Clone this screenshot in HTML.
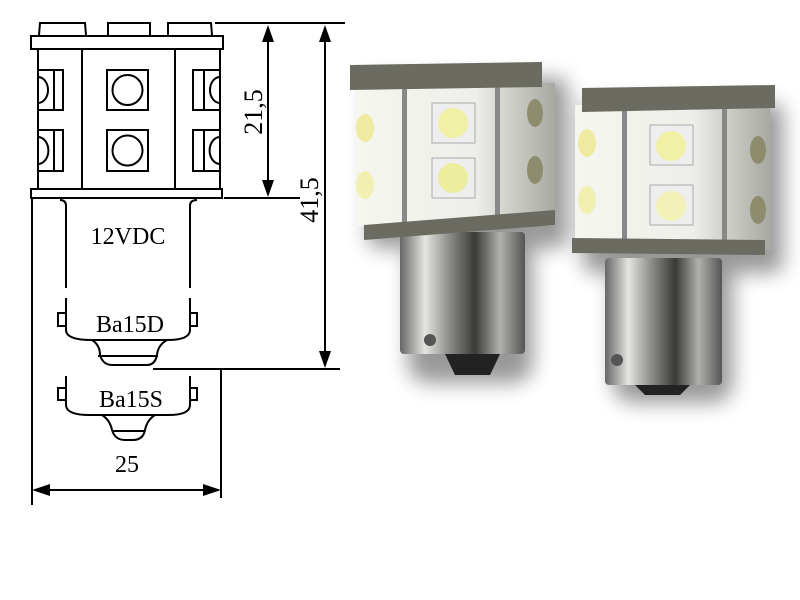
<!DOCTYPE html><html><head><style>body{margin:0;background:#fff}svg{display:block}</style></head><body>
<svg width="800" height="600" viewBox="0 0 800 600" xmlns="http://www.w3.org/2000/svg">
<defs>
<linearGradient id="metal" x1="0" x2="1"><stop offset="0" stop-color="#666"/><stop offset=".2" stop-color="#e4e4e0"/><stop offset=".4" stop-color="#8a8a86"/><stop offset=".6" stop-color="#3a3a38"/><stop offset=".8" stop-color="#b0b0ac"/><stop offset="1" stop-color="#555"/></linearGradient>
<linearGradient id="pcb" x1="0" x2="1"><stop offset="0" stop-color="#f6f6f0"/><stop offset=".6" stop-color="#eeeeea"/><stop offset="1" stop-color="#a9a9a3"/></linearGradient>
<filter id="sh" x="-20%" y="-20%" width="140%" height="140%"><feGaussianBlur stdDeviation="10"/></filter>
</defs>
<g stroke="#000" stroke-width="2" fill="none" font-family="Liberation Serif, serif">
<path d="M39 35 L40 23 H85 L86 35 M108 35 V23 H150 V35 M168 35 V23 H211 L212 35"/>
<rect x="31" y="36" width="192" height="13"/>
<rect x="38" y="49" width="182" height="140"/>
<line x1="82" y1="49" x2="82" y2="189"/><line x1="175" y1="49" x2="175" y2="189"/>
<rect x="31" y="189" width="191" height="9"/>
<rect x="107" y="70" width="41" height="40"/><circle cx="127.5" cy="90" r="15"/>
<rect x="107" y="130" width="41" height="41"/><circle cx="127.5" cy="150.5" r="15"/>
<path d="M38 70 H63 V110 H38 M54 70 V110 M38 77 A10 13 0 0 1 38 103"/>
<path d="M38 130 H63 V171 H38 M54 130 V171 M38 137 A10 13 0 0 1 38 164"/>
<path d="M220 70 H193 V110 H220 M204 70 V110 M220 77 A10 13 0 0 0 220 103"/>
<path d="M220 130 H193 V171 H220 M204 130 V171 M220 137 A10 13 0 0 0 220 164"/>
<path d="M60 200 Q66 200 66 206 V288 M66 298 V330 Q66 340 92 340 H167 Q190 340 190 330 V298 M190 288 V206 Q190 200 197 200"/>
<path d="M58 313 H66 V326 H58 Z M190 313 H197 V326 H190 Z"/>
<path d="M92 340 Q100 345 100 355 Q103 365 112 365 H147 Q155 365 157 355 Q158 345 167 340 M98 356 H158"/>
<path d="M66 376 V405 Q66 415 90 415 H168 Q190 415 190 405 V376"/>
<path d="M58 388 H66 V400 H58 Z M190 388 H197 V400 H190 Z"/>
<path d="M102 415 Q110 420 112 430 Q115 440 125 440 H133 Q143 440 145 430 Q147 420 155 415 M112 431 H145"/>
<path d="M215 23 H345 M224 198 H300 M153 369 H340 M221 369 V498 M32 198 V505"/>
<line x1="268" y1="38" x2="268" y2="185"/><line x1="325" y1="38" x2="325" y2="355"/>
<line x1="45" y1="490" x2="208" y2="490"/>
<g fill="#000" stroke="none">
<path d="M268 25 L262 42 H274 Z M268 197 L262 180 H274 Z M325 25 L319 42 H331 Z M325 368 L319 351 H331 Z M32 490 L50 484 V496 Z M221 490 L203 484 V496 Z"/>
<text x="128" y="244" font-size="24" text-anchor="middle">12VDC</text>
<text x="130" y="332" font-size="24" text-anchor="middle">Ba15D</text>
<text x="131" y="407" font-size="24" text-anchor="middle">Ba15S</text>
<text x="127" y="472" font-size="24" text-anchor="middle">25</text>
<text transform="translate(262,112) rotate(-90)" font-size="26" text-anchor="middle">21,5</text>
<text transform="translate(318,200) rotate(-90)" font-size="26" text-anchor="middle">41,5</text>
</g>
</g>
<g>
<g filter="url(#sh)" fill="#000" opacity=".4"><rect x="368" y="78" width="200" height="170" rx="10"/><rect x="408" y="238" width="125" height="145" rx="20"/><rect x="583" y="103" width="200" height="170" rx="10"/><rect x="613" y="258" width="120" height="145" rx="20"/></g>
<g>
<rect x="400" y="232" width="125" height="122" rx="4" fill="url(#metal)"/>
<path d="M445 354 H500 L490 375 H455 Z" fill="#222"/>
<circle cx="430" cy="340" r="6" fill="#555"/>
<rect x="355" y="83" width="200" height="143" fill="url(#pcb)"/>
<rect x="402" y="83" width="5" height="143" fill="#888"/><rect x="495" y="83" width="5" height="143" fill="#888"/>
<rect x="432" y="103" width="43" height="40" fill="#eee" stroke="#aaa"/><circle cx="453" cy="123" r="15" fill="#f1f1a6"/>
<rect x="432" y="158" width="43" height="40" fill="#eee" stroke="#aaa"/><circle cx="453" cy="178" r="15" fill="#eded9e"/>
<ellipse cx="365" cy="128" rx="9" ry="14" fill="#eeeaa0"/><ellipse cx="365" cy="185" rx="9" ry="14" fill="#f2f0b0"/>
<ellipse cx="535" cy="113" rx="8" ry="14" fill="#8d8d6d"/><ellipse cx="535" cy="170" rx="8" ry="14" fill="#8d8d6d"/>
<path d="M350 65 L542 62 V87 L350 90 Z" fill="#6b6b62"/>
<path d="M364 225 L555 210 V225 L364 240 Z" fill="#6b6b62"/>
</g>
<g>
<rect x="605" y="258" width="117" height="127" rx="4" fill="url(#metal)"/>
<path d="M635 385 H690 L680 395 H645 Z" fill="#222"/>
<circle cx="617" cy="360" r="6" fill="#555"/>
<rect x="575" y="105" width="195" height="145" fill="url(#pcb)"/>
<rect x="622" y="105" width="5" height="145" fill="#888"/><rect x="722" y="105" width="5" height="145" fill="#888"/>
<rect x="650" y="125" width="43" height="40" fill="#eee" stroke="#aaa"/><circle cx="671" cy="146" r="15" fill="#f1f1a6"/>
<rect x="650" y="185" width="43" height="40" fill="#eee" stroke="#aaa"/><circle cx="671" cy="206" r="15" fill="#f2f2b8"/>
<ellipse cx="587" cy="143" rx="9" ry="14" fill="#eeeaa0"/><ellipse cx="587" cy="200" rx="9" ry="14" fill="#f2f0b0"/>
<ellipse cx="758" cy="150" rx="8" ry="14" fill="#8d8d6d"/><ellipse cx="758" cy="210" rx="8" ry="14" fill="#8d8d6d"/>
<path d="M582 88 L775 85 V108 L582 112 Z" fill="#6b6b62"/>
<path d="M572 238 L765 240 V255 L572 253 Z" fill="#6b6b62"/>
</g>
</g>
</svg>
</body></html>
